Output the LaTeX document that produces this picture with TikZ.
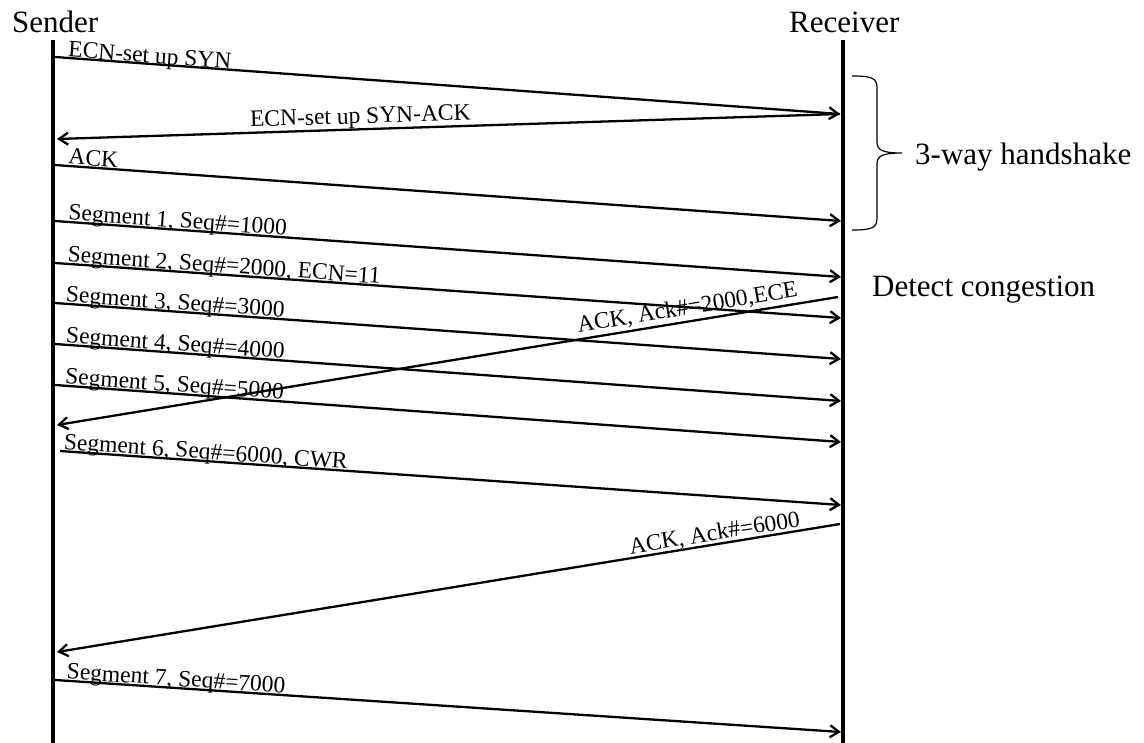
\documentclass[tikz,border=0pt]{standalone}
\usepackage{fontspec}
\setmainfont{Liberation Serif}
\usetikzlibrary{arrows.meta}
\begin{document}
\begin{tikzpicture}[x=1pt,y=-1pt,
  lifeline/.style={line width=3.2pt},
  msg/.style={line width=2.3pt, -{Straight Barb[length=9pt,width=12pt]}},
  lbl/.style={font=\fontsize{23.5}{26}\selectfont, inner sep=0pt, sloped},
  rlbl/.style={lbl, anchor=base west, yshift=2pt},
  llbl/.style={lbl, anchor=base},
  title/.style={font=\fontsize{31}{34}\selectfont, inner sep=0pt, anchor=base west},
  bracepath/.style={line width=1.2pt}]
\useasboundingbox (0,0) rectangle (1144,743);

% titles
\node[title] (sender) at (12,33) {Sender};
\node[title] (receiver) at (789,33) {Receiver};
\node[title] (hs) at (915,165) {3-way handshake};
\node[title] (dc) at (872,297) {Detect congestion};

% lifelines
\coordinate (sTop) at (53,40);
\coordinate (sBot) at (53,743);
\coordinate (rTop) at (843,40);
\coordinate (rBot) at (843,743);
\draw[lifeline] (sTop) -- (sBot);
\draw[lifeline] (rTop) -- (rBot);

% end points
\coordinate (s1) at (55,57);   \coordinate (r1) at (840,114);
\coordinate (s2) at (57,139);
\coordinate (s3) at (55,165);  \coordinate (r3) at (841,221);
\coordinate (s4) at (55,221);  \coordinate (r4) at (841,277);
\coordinate (s5) at (55,263);  \coordinate (r5) at (841,318);
\coordinate (s6) at (55,303);  \coordinate (r6) at (841,359);
\coordinate (s7) at (55,344);  \coordinate (r7) at (841,401);
\coordinate (s8) at (55,385);  \coordinate (r8) at (841,442);
\coordinate (r9) at (838,297); \coordinate (s9) at (57,425);
\coordinate (s10) at (60,451); \coordinate (r10) at (841,505);
\coordinate (r11) at (840,524); \coordinate (s11) at (57,652);
\coordinate (s12) at (55,680); \coordinate (r12) at (841,732);

% messages
\draw[msg] (s1) -- (r1) node[rlbl, pos=0.015, yshift=-1pt] (l1) {ECN-set up SYN};
\draw[msg] (r1) -- (s2) node[llbl, pos=0.612, yshift=6pt] (l2) {ECN-set up SYN-ACK};
\draw[msg] (s3) -- (r3) node[rlbl, pos=0.015] (l3) {ACK};
\draw[msg] (s4) -- (r4) node[rlbl, pos=0.015] (l4) {Segment 1, Seq\#=1000};
\draw[msg] (s5) -- (r5) node[rlbl, pos=0.014] (l5) {Segment 2, Seq\#=2000, ECN=11};
\draw[msg] (s6) -- (r6) node[rlbl, pos=0.012] (l6) {Segment 3, Seq\#=3000};
\draw[msg] (s7) -- (r7) node[rlbl, pos=0.012] (l7) {Segment 4, Seq\#=4000};
\draw[msg] (s8) -- (r8) node[rlbl, pos=0.011] (l8) {Segment 5, Seq\#=5000};
\draw[msg] (r9) -- (s9) node[llbl, pos=0.19, yshift=7pt] (l9) {ACK, Ack\#=2000,ECE};
\draw[msg] (s10) -- (r10) node[rlbl, pos=0.003] (l10) {Segment 6, Seq\#=6000, CWR};
\draw[msg] (r11) -- (s11) node[llbl, pos=0.158, yshift=4pt] (l11) {ACK, Ack\#=6000};
\draw[msg] (s12) -- (r12) node[rlbl, pos=0.013] (l12) {Segment 7, Seq\#=7000};

% brace
\draw[bracepath] (852,76) .. controls (872,76) and (877,78) .. (877,88)
  -- (877,142) .. controls (877,150) and (882,153) .. (902,153)
  .. controls (882,153) and (877,156) .. (877,164)
  -- (877,218) .. controls (877,228) and (872,230) .. (852,230);
\end{tikzpicture}
\end{document}
